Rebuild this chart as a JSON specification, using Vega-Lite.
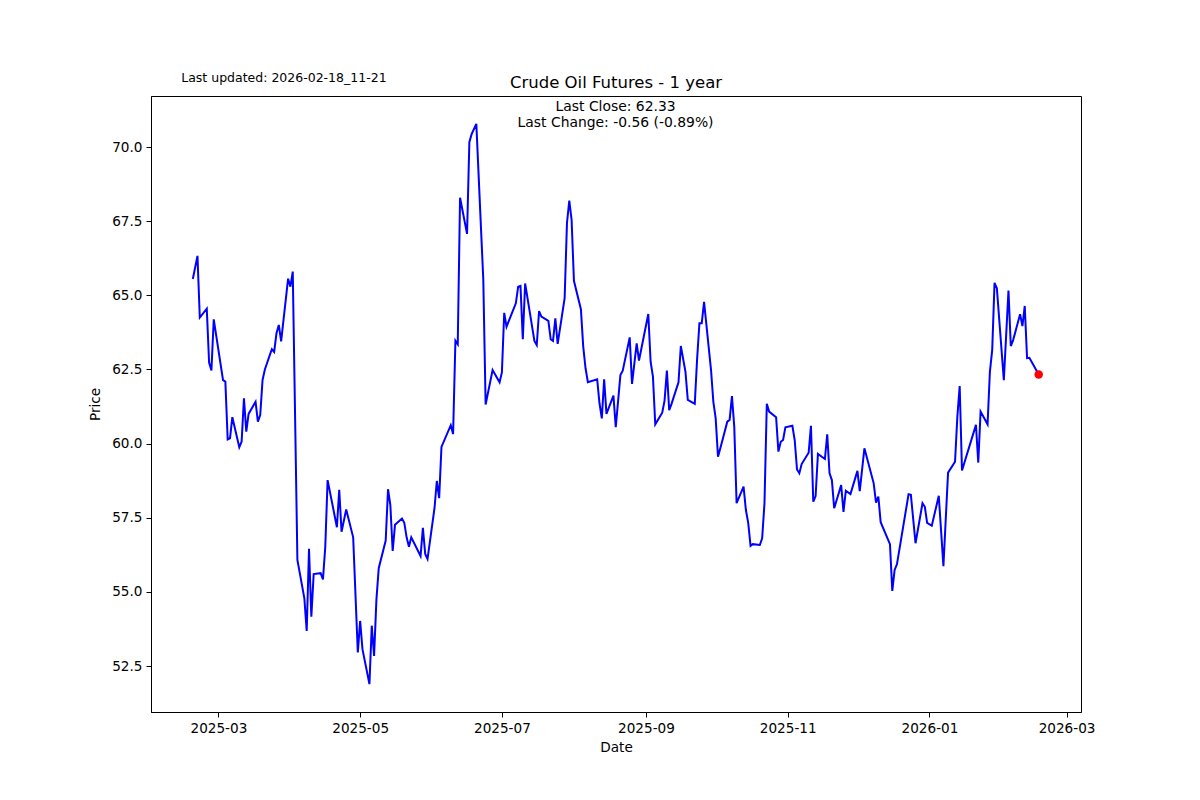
{
  "$schema": "https://vega.github.io/schema/vega-lite/v6.json",
  "width": 930,
  "height": 616,
  "autosize": {"type": "none"},
  "padding": {"left": 151, "top": 96, "right": 119, "bottom": 88},
  "background": "white",
  "config": {
    "font": "DejaVu Sans",
    "view": {"stroke": "black", "strokeWidth": 1},
    "axis": {
      "grid": false,
      "domainColor": "black",
      "tickColor": "black",
      "labelColor": "black",
      "titleColor": "black",
      "labelFont": "DejaVu Sans",
      "titleFont": "DejaVu Sans",
      "labelFontSize": 13.6,
      "titleFontSize": 13.6,
      "titleFontWeight": "normal",
      "tickSize": 5,
      "labelFlush": false
    }
  },
  "title": {
    "text": "Crude Oil Futures - 1 year",
    "font": "DejaVu Sans",
    "fontSize": 16.5,
    "fontWeight": "normal",
    "color": "black",
    "anchor": "middle",
    "baseline": "alphabetic",
    "offset": -33
  },
  "datasets": {
    "prices": [
      {"date": "2025-02-18", "price": 65.55},
      {"date": "2025-02-20", "price": 66.33},
      {"date": "2025-02-21", "price": 64.25},
      {"date": "2025-02-24", "price": 64.55},
      {"date": "2025-02-25", "price": 62.73},
      {"date": "2025-02-26", "price": 62.47},
      {"date": "2025-02-27", "price": 64.19},
      {"date": "2025-03-03", "price": 62.14},
      {"date": "2025-03-04", "price": 62.09},
      {"date": "2025-03-05", "price": 60.14},
      {"date": "2025-03-06", "price": 60.18},
      {"date": "2025-03-07", "price": 60.89},
      {"date": "2025-03-10", "price": 59.88},
      {"date": "2025-03-11", "price": 60.07},
      {"date": "2025-03-12", "price": 61.53},
      {"date": "2025-03-13", "price": 60.40},
      {"date": "2025-03-14", "price": 61.00},
      {"date": "2025-03-17", "price": 61.41},
      {"date": "2025-03-18", "price": 60.74},
      {"date": "2025-03-19", "price": 60.96},
      {"date": "2025-03-20", "price": 62.14},
      {"date": "2025-03-21", "price": 62.50},
      {"date": "2025-03-24", "price": 63.18},
      {"date": "2025-03-25", "price": 63.09},
      {"date": "2025-03-26", "price": 63.72},
      {"date": "2025-03-27", "price": 64.00},
      {"date": "2025-03-28", "price": 63.45},
      {"date": "2025-03-31", "price": 65.56},
      {"date": "2025-04-01", "price": 65.29},
      {"date": "2025-04-02", "price": 65.80},
      {"date": "2025-04-04", "price": 56.08},
      {"date": "2025-04-07", "price": 54.78},
      {"date": "2025-04-08", "price": 53.68},
      {"date": "2025-04-09", "price": 56.45},
      {"date": "2025-04-10", "price": 54.16},
      {"date": "2025-04-11", "price": 55.60},
      {"date": "2025-04-14", "price": 55.63},
      {"date": "2025-04-15", "price": 55.42},
      {"date": "2025-04-16", "price": 56.52},
      {"date": "2025-04-17", "price": 58.77},
      {"date": "2025-04-21", "price": 57.18},
      {"date": "2025-04-22", "price": 58.44},
      {"date": "2025-04-23", "price": 57.03},
      {"date": "2025-04-25", "price": 57.78},
      {"date": "2025-04-28", "price": 56.84},
      {"date": "2025-04-30", "price": 52.96},
      {"date": "2025-05-01", "price": 54.02},
      {"date": "2025-05-02", "price": 53.07},
      {"date": "2025-05-05", "price": 51.89},
      {"date": "2025-05-06", "price": 53.86},
      {"date": "2025-05-07", "price": 52.84},
      {"date": "2025-05-08", "price": 54.73},
      {"date": "2025-05-09", "price": 55.80},
      {"date": "2025-05-12", "price": 56.73},
      {"date": "2025-05-13", "price": 58.46},
      {"date": "2025-05-14", "price": 57.93},
      {"date": "2025-05-15", "price": 56.38},
      {"date": "2025-05-16", "price": 57.26},
      {"date": "2025-05-19", "price": 57.47},
      {"date": "2025-05-20", "price": 57.33},
      {"date": "2025-05-21", "price": 56.84},
      {"date": "2025-05-22", "price": 56.52},
      {"date": "2025-05-23", "price": 56.84},
      {"date": "2025-05-27", "price": 56.21},
      {"date": "2025-05-28", "price": 57.16},
      {"date": "2025-05-29", "price": 56.28},
      {"date": "2025-05-30", "price": 56.11},
      {"date": "2025-06-02", "price": 57.82},
      {"date": "2025-06-03", "price": 58.74},
      {"date": "2025-06-04", "price": 58.16},
      {"date": "2025-06-05", "price": 59.89},
      {"date": "2025-06-09", "price": 60.62},
      {"date": "2025-06-10", "price": 60.32},
      {"date": "2025-06-11", "price": 63.47},
      {"date": "2025-06-12", "price": 63.35},
      {"date": "2025-06-13", "price": 68.29},
      {"date": "2025-06-16", "price": 67.07},
      {"date": "2025-06-17", "price": 70.16},
      {"date": "2025-06-18", "price": 70.44},
      {"date": "2025-06-20", "price": 70.78},
      {"date": "2025-06-23", "price": 65.52},
      {"date": "2025-06-24", "price": 61.32},
      {"date": "2025-06-27", "price": 62.48},
      {"date": "2025-06-30", "price": 62.07},
      {"date": "2025-07-01", "price": 62.40},
      {"date": "2025-07-02", "price": 64.41},
      {"date": "2025-07-03", "price": 63.94},
      {"date": "2025-07-07", "price": 64.73},
      {"date": "2025-07-08", "price": 65.29},
      {"date": "2025-07-09", "price": 65.32},
      {"date": "2025-07-10", "price": 63.52},
      {"date": "2025-07-11", "price": 65.40},
      {"date": "2025-07-15", "price": 63.46},
      {"date": "2025-07-16", "price": 63.32},
      {"date": "2025-07-17", "price": 64.47},
      {"date": "2025-07-18", "price": 64.28},
      {"date": "2025-07-21", "price": 64.14},
      {"date": "2025-07-22", "price": 63.52},
      {"date": "2025-07-23", "price": 63.46},
      {"date": "2025-07-24", "price": 64.22},
      {"date": "2025-07-25", "price": 63.36},
      {"date": "2025-07-28", "price": 64.90},
      {"date": "2025-07-29", "price": 67.43},
      {"date": "2025-07-30", "price": 68.19},
      {"date": "2025-07-31", "price": 67.54},
      {"date": "2025-08-01", "price": 65.49},
      {"date": "2025-08-04", "price": 64.53},
      {"date": "2025-08-05", "price": 63.27},
      {"date": "2025-08-06", "price": 62.54},
      {"date": "2025-08-07", "price": 62.07},
      {"date": "2025-08-11", "price": 62.17},
      {"date": "2025-08-12", "price": 61.36},
      {"date": "2025-08-13", "price": 60.85},
      {"date": "2025-08-14", "price": 62.17},
      {"date": "2025-08-15", "price": 61.00},
      {"date": "2025-08-18", "price": 61.62},
      {"date": "2025-08-19", "price": 60.55},
      {"date": "2025-08-21", "price": 62.31},
      {"date": "2025-08-22", "price": 62.46},
      {"date": "2025-08-25", "price": 63.58},
      {"date": "2025-08-26", "price": 62.01},
      {"date": "2025-08-28", "price": 63.38},
      {"date": "2025-08-29", "price": 62.80},
      {"date": "2025-09-02", "price": 64.37},
      {"date": "2025-09-03", "price": 62.76},
      {"date": "2025-09-04", "price": 62.26},
      {"date": "2025-09-05", "price": 60.65},
      {"date": "2025-09-08", "price": 61.04},
      {"date": "2025-09-09", "price": 61.45},
      {"date": "2025-09-10", "price": 62.46},
      {"date": "2025-09-11", "price": 61.13},
      {"date": "2025-09-12", "price": 61.34},
      {"date": "2025-09-15", "price": 62.07},
      {"date": "2025-09-16", "price": 63.29},
      {"date": "2025-09-18", "price": 62.42},
      {"date": "2025-09-19", "price": 61.47},
      {"date": "2025-09-22", "price": 61.34},
      {"date": "2025-09-23", "price": 62.84},
      {"date": "2025-09-24", "price": 64.06},
      {"date": "2025-09-25", "price": 64.06},
      {"date": "2025-09-26", "price": 64.78},
      {"date": "2025-09-29", "price": 62.48},
      {"date": "2025-09-30", "price": 61.41},
      {"date": "2025-10-01", "price": 60.85},
      {"date": "2025-10-02", "price": 59.56},
      {"date": "2025-10-03", "price": 59.84},
      {"date": "2025-10-06", "price": 60.74},
      {"date": "2025-10-07", "price": 60.80},
      {"date": "2025-10-08", "price": 61.60},
      {"date": "2025-10-09", "price": 60.57},
      {"date": "2025-10-10", "price": 57.99},
      {"date": "2025-10-13", "price": 58.55},
      {"date": "2025-10-14", "price": 57.76},
      {"date": "2025-10-15", "price": 57.33},
      {"date": "2025-10-16", "price": 56.55},
      {"date": "2025-10-17", "price": 56.61},
      {"date": "2025-10-20", "price": 56.58},
      {"date": "2025-10-21", "price": 56.81},
      {"date": "2025-10-22", "price": 57.99},
      {"date": "2025-10-23", "price": 61.34},
      {"date": "2025-10-24", "price": 61.08},
      {"date": "2025-10-27", "price": 60.89},
      {"date": "2025-10-28", "price": 59.73},
      {"date": "2025-10-29", "price": 60.06},
      {"date": "2025-10-30", "price": 60.12},
      {"date": "2025-10-31", "price": 60.55},
      {"date": "2025-11-03", "price": 60.60},
      {"date": "2025-11-04", "price": 60.12},
      {"date": "2025-11-05", "price": 59.13},
      {"date": "2025-11-06", "price": 59.00},
      {"date": "2025-11-07", "price": 59.31},
      {"date": "2025-11-10", "price": 59.69},
      {"date": "2025-11-11", "price": 60.60},
      {"date": "2025-11-12", "price": 58.04},
      {"date": "2025-11-13", "price": 58.23},
      {"date": "2025-11-14", "price": 59.65},
      {"date": "2025-11-17", "price": 59.48},
      {"date": "2025-11-18", "price": 60.31},
      {"date": "2025-11-19", "price": 59.00},
      {"date": "2025-11-20", "price": 58.77},
      {"date": "2025-11-21", "price": 57.82},
      {"date": "2025-11-24", "price": 58.60},
      {"date": "2025-11-25", "price": 57.70},
      {"date": "2025-11-26", "price": 58.41},
      {"date": "2025-11-28", "price": 58.30},
      {"date": "2025-12-01", "price": 59.08},
      {"date": "2025-12-02", "price": 58.40},
      {"date": "2025-12-04", "price": 59.84},
      {"date": "2025-12-08", "price": 58.66},
      {"date": "2025-12-09", "price": 58.01},
      {"date": "2025-12-10", "price": 58.21},
      {"date": "2025-12-11", "price": 57.35},
      {"date": "2025-12-15", "price": 56.61},
      {"date": "2025-12-16", "price": 55.03},
      {"date": "2025-12-17", "price": 55.74},
      {"date": "2025-12-18", "price": 55.93},
      {"date": "2025-12-23", "price": 58.29},
      {"date": "2025-12-24", "price": 58.27},
      {"date": "2025-12-26", "price": 56.64},
      {"date": "2025-12-29", "price": 57.99},
      {"date": "2025-12-30", "price": 57.87},
      {"date": "2025-12-31", "price": 57.33},
      {"date": "2026-01-02", "price": 57.23},
      {"date": "2026-01-05", "price": 58.24},
      {"date": "2026-01-07", "price": 55.87},
      {"date": "2026-01-09", "price": 59.02},
      {"date": "2026-01-12", "price": 59.39},
      {"date": "2026-01-13", "price": 60.91},
      {"date": "2026-01-14", "price": 61.94},
      {"date": "2026-01-15", "price": 59.09},
      {"date": "2026-01-21", "price": 60.63},
      {"date": "2026-01-22", "price": 59.36},
      {"date": "2026-01-23", "price": 61.08},
      {"date": "2026-01-26", "price": 60.65},
      {"date": "2026-01-27", "price": 62.42},
      {"date": "2026-01-28", "price": 63.16},
      {"date": "2026-01-29", "price": 65.42},
      {"date": "2026-01-30", "price": 65.24},
      {"date": "2026-02-02", "price": 62.14},
      {"date": "2026-02-04", "price": 65.16},
      {"date": "2026-02-05", "price": 63.29},
      {"date": "2026-02-06", "price": 63.49},
      {"date": "2026-02-09", "price": 64.36},
      {"date": "2026-02-10", "price": 63.96},
      {"date": "2026-02-11", "price": 64.64},
      {"date": "2026-02-12", "price": 62.88},
      {"date": "2026-02-13", "price": 62.89},
      {"date": "2026-02-17", "price": 62.33}
    ],
    "last": [
      {"date": "2026-02-17", "price": 62.33}
    ]
  },
  "layer": [
    {
      "data": {"name": "prices"},
      "mark": {"type": "line", "color": "#0000ff", "strokeWidth": 2},
      "encoding": {
        "x": {
          "field": "date",
          "type": "temporal",
          "title": "Date",
          "scale": {"domain": [{"year": 2025, "month": 1, "date": 31, "hours": 0}, {"year": 2026, "month": 3, "date": 7, "hours": 5}]},
          "axis": {
            "values": [
              {"year": 2025, "month": 3, "date": 1},
              {"year": 2025, "month": 5, "date": 1},
              {"year": 2025, "month": 7, "date": 1},
              {"year": 2025, "month": 9, "date": 1},
              {"year": 2025, "month": 11, "date": 1},
              {"year": 2026, "month": 1, "date": 1},
              {"year": 2026, "month": 3, "date": 1}
            ],
            "format": "%Y-%m",
            "labelPadding": 4,
            "titlePadding": 6
          }
        },
        "y": {
          "field": "price",
          "type": "quantitative",
          "title": "Price",
          "scale": {"domain": [50.95, 71.72], "zero": false, "nice": false},
          "axis": {
            "values": [52.5, 55, 57.5, 60, 62.5, 65, 67.5, 70],
            "format": ".1f",
            "labelPadding": 4,
            "titlePadding": 9
          }
        }
      }
    },
    {
      "data": {"name": "last"},
      "mark": {"type": "point", "filled": true, "color": "#ff0000", "opacity": 1, "size": 72},
      "encoding": {
        "x": {"field": "date", "type": "temporal"},
        "y": {"field": "price", "type": "quantitative"}
      }
    },
    {
      "data": {"values": [{"label": "Last updated: 2026-02-18_11-21"}]},
      "mark": {"type": "text", "align": "left", "baseline": "middle", "font": "DejaVu Sans", "fontSize": 12.5, "color": "black"},
      "encoding": {
        "x": {"datum": {"year": 2025, "month": 2, "date": 13}, "type": "temporal"},
        "y": {"datum": 72.33, "type": "quantitative"},
        "text": {"field": "label"}
      }
    },
    {
      "data": {"values": [{"label": ["Last Close: 62.33", "Last Change: -0.56 (-0.89%)"]}]},
      "mark": {"type": "text", "align": "center", "baseline": "middle", "font": "DejaVu Sans", "fontSize": 13.9, "lineHeight": 16, "color": "black"},
      "encoding": {
        "x": {"datum": {"year": 2025, "month": 8, "date": 18, "hours": 22}, "type": "temporal"},
        "y": {"datum": 71.35, "type": "quantitative"},
        "text": {"field": "label"}
      }
    }
  ]
}
